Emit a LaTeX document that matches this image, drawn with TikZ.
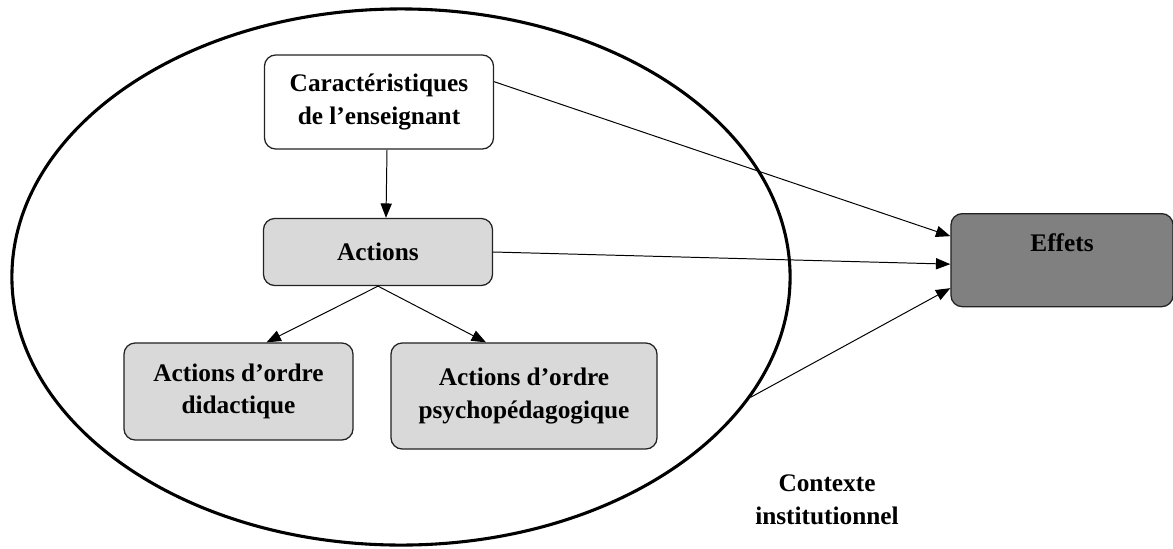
\documentclass[tikz,border=0pt]{standalone}
\usepackage{fontspec}
\setmainfont{Liberation Serif}
\usepackage{tikz}
\usetikzlibrary{arrows.meta,positioning,calc,shapes.geometric}
\definecolor{lightgrey}{HTML}{D9D9D9}
\definecolor{midgrey}{HTML}{808080}
\definecolor{edge}{HTML}{222222}
\tikzset{
  box/.style={
    rounded corners=8pt,draw=edge,fill=white,
    line width=.9pt,inner sep=0pt,
    align=center,font=\bfseries\fontsize{18}{22.8}\selectfont
  },
  greybox/.style={box,fill=lightgrey},
  effbox/.style={
    box,fill=midgrey,minimum width=5.55cm,
    text height=.45cm,text depth=.875cm,inner ysep=.5cm
  },
  context/.style={ellipse,draw=black,line width=2.2pt,inner sep=0pt},
  arrow/.style={-{Triangle[length=3.6mm,width=2.8mm]},draw=black,line width=.7pt}
}
\begin{document}
\begin{tikzpicture}[x=0.025cm,y=-0.025cm]
\useasboundingbox (0,0) rectangle (1173,548);
\node[context,minimum width=19.45cm,minimum height=13.4cm] (ctx) at (401,277) {};
\node[box,minimum width=5.725cm,minimum height=2.35cm] (car) at (379,102)
  {Caractéristiques\\de l’enseignant};
\node[greybox,minimum width=5.725cm,minimum height=1.675cm] (act) at (378,252) {Actions};
\node[greybox,minimum width=5.725cm,minimum height=2.425cm] (did) at (238.5,391.5)
  {Actions d’ordre\\didactique};
\node[greybox,minimum width=6.65cm,minimum height=2.65cm] (psy) at (524,396)
  {Actions d’ordre\\psychopédagogique};
\node[effbox,anchor=north] (eff) at (1062,213) {Effets};
\node[font=\bfseries\fontsize{18}{23.4}\selectfont,align=center] (ctxlabel) at (827,500)
  {Contexte\\institutionnel};
\draw[arrow] ([xshift=2mm]car.south)--([xshift=2mm]act.north);
\draw[arrow] (act.south)--([xshift=7mm]did.north);
\draw[arrow] (act.south)--([xshift=-9.5mm]psy.north);
\draw[arrow] (car.10)--([yshift=6mm]eff.west);
\draw[arrow] (act.east)--([yshift=-.1cm]eff.west);
\draw[arrow] (ctx.-19)--([yshift=-.7cm]eff.west);
\end{tikzpicture}
\end{document}
